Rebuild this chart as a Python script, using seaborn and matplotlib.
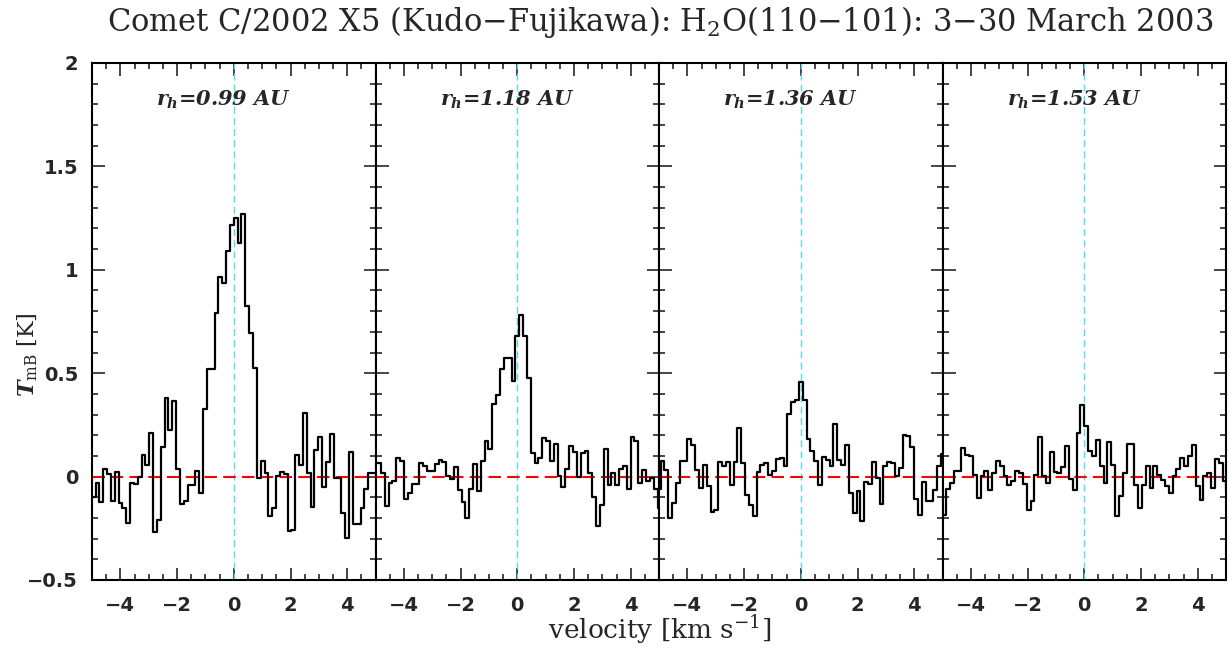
import numpy as np
import matplotlib
matplotlib.use('Agg')
import matplotlib.pyplot as plt
from matplotlib.ticker import MultipleLocator, FuncFormatter
import seaborn as sns

# spectral channel grid (km/s)
chan_width = 0.1355
first_edge = [-37 * chan_width, -37.5 * chan_width, -37.5 * chan_width, -37 * chan_width]

rh_labels = ['0.99', '1.18', '1.36', '1.53']

# T_mB [K] per channel
tmb_099 = [-0.097, -0.03, -0.125, 0.035, 0.013, -0.118, 0.023, -0.13, -0.153, -0.222,
           -0.03, -0.035, 0.0, 0.106, 0.055, 0.21, -0.268, -0.211, 0.143, 0.382,
           0.226, 0.366, 0.035, -0.134, -0.12, -0.042, -0.042, 0.027, -0.08, 0.325,
           0.522, 0.522, 0.793, 0.966, 0.935, 1.09, 1.217,
           1.252, 1.13, 1.272, 0.825, 0.696, 0.527, -0.005, 0.076, 0.016, -0.19,
           -0.15, 0.003, 0.024, 0.011, -0.263, -0.258, 0.103, 0.055, 0.306, 0.016,
           -0.147, 0.129, 0.192, -0.052, 0.071, 0.205, -0.005, -0.005, -0.174, -0.295,
           0.121, -0.23, -0.23, -0.15, -0.062, 0.016, 0.016]
tmb_118 = [0.068, 0.068, 0.016, -0.142, -0.029, -0.021, 0.09, 0.076, -0.11, -0.077,
           -0.035, -0.035, 0.068, 0.052, 0.027, 0.027, 0.063, 0.081, 0.071, 0.003,
           -0.01, 0.044, -0.064, -0.123, -0.2, -0.061, 0.06, -0.069, 0.076, 0.172,
           0.132, 0.35, 0.393, 0.522, 0.572, 0.572, 0.463,
           0.68, 0.782, 0.68, 0.478, 0.116, 0.068, 0.092, 0.189, 0.172, 0.076,
           0.16, 0.003, -0.05, 0.035, 0.148, 0.119, 0.0, 0.116, 0.124, 0.019,
           -0.1, -0.237, -0.139, 0.132, -0.042, 0.015, -0.042, 0.035, 0.052, -0.058,
           0.19, 0.172, -0.029, 0.032, -0.021, -0.005, -0.06, -0.15]
tmb_136 = [-0.06, 0.077, 0.034, -0.2, -0.127, -0.031, 0.074, 0.074, 0.182, 0.155,
           0.034, -0.053, 0.058, -0.047, -0.172, -0.16, 0.071, 0.05, 0.071, -0.042,
           0.069, 0.235, 0.066, -0.087, -0.135, -0.19, 0.021, 0.058, 0.066, 0.01,
           0.026, 0.085, 0.09, 0.05, 0.305, 0.36, 0.37,
           0.455, 0.371, 0.182, 0.122, 0.074, -0.039, 0.093, 0.082, 0.05, 0.256,
           0.082, 0.058, 0.155, -0.079, -0.176, -0.071, -0.216, -0.026, -0.034, 0.069,
           -0.006, -0.132, 0.053, 0.071, 0.066, 0.005, 0.042, 0.203, 0.195, 0.143,
           -0.108, -0.184, -0.026, -0.116, -0.116, -0.063, 0.05, 0.11]
tmb_153 = [-0.184, -0.06, -0.031, 0.026, 0.026, 0.139, 0.106, 0.098, 0.006, -0.103,
           0.002, 0.026, -0.066, 0.018, 0.074, 0.05, 0.002, -0.039, -0.023, 0.026,
           0.018, -0.034, -0.163, -0.119, 0.01, 0.192, 0.002, -0.031, 0.119, 0.021,
           0.018, 0.047, 0.147, -0.011, -0.066, 0.211, 0.348,
           0.243, 0.123, 0.098, 0.179, 0.05, -0.031, 0.166, 0.058, -0.192, -0.095,
           0.015, 0.16, 0.16, -0.039, -0.152, -0.039, 0.05, -0.055, 0.053, 0.01,
           -0.015, -0.044, -0.079, 0.002, 0.037, 0.09, 0.05, 0.098, 0.155, -0.047,
           -0.111, 0.002, 0.015, -0.055, 0.085, 0.066, -0.023, -0.071]

spectra = [tmb_099, tmb_118, tmb_136, tmb_153]

sns.set_style('ticks')
plt.rcParams['font.family'] = ['DejaVu Serif']
plt.rcParams['mathtext.fontset'] = 'custom'
plt.rcParams['mathtext.rm'] = 'DejaVu Serif'
plt.rcParams['mathtext.it'] = 'DejaVu Serif:italic:bold'

fig = plt.figure(figsize=(12.29, 6.5), dpi=100)
axes = fig.subplots(1, 4, sharey=True, gridspec_kw=dict(wspace=0))
fig.subplots_adjust(left=0.0749, right=0.9976, top=0.9031, bottom=0.1077)

minus_fmt = FuncFormatter(lambda v, pos: ('%g' % v).replace('-', '\u2212'))

for i, ax in enumerate(axes):
    vals = spectra[i]
    edges = first_edge[i] + chan_width * np.arange(len(vals) + 1)
    ax.axvline(0, color='#55dde6', ls=(0, (5, 3)), lw=1.0, zorder=1)
    ax.axhline(0, color='red', ls=(0, (6, 3)), lw=1.5, zorder=1)
    sns.lineplot(x=edges, y=list(vals) + [vals[-1]], drawstyle='steps-post',
                 color='black', lw=1.6, estimator=None, sort=False, ax=ax, zorder=3)
    ax.set_xlim(-5, 5)
    ax.set_ylim(-0.5, 2)
    ax.xaxis.set_major_locator(MultipleLocator(2))
    ax.xaxis.set_minor_locator(MultipleLocator(0.5))
    ax.yaxis.set_major_locator(MultipleLocator(0.5))
    ax.yaxis.set_minor_locator(MultipleLocator(0.1))
    ax.xaxis.set_major_formatter(minus_fmt)
    ax.yaxis.set_major_formatter(minus_fmt)
    ax.tick_params(which='both', direction='in', top=True, right=True, width=1.2,
                   labelsize=14)
    ax.tick_params(axis='x', pad=11.5)
    ax.tick_params(axis='y', pad=10)
    ax.tick_params(which='major', length=9)
    ax.tick_params(which='minor', length=4.5)
    for lab in ax.get_xticklabels() + ax.get_yticklabels():
        lab.set_family('DejaVu Sans')
        lab.set_fontweight('bold')
    for sp in ax.spines.values():
        sp.set_linewidth(1.5)
        sp.set_color('black')
    ax.set_xlabel('')
    ax.set_ylabel('')
    ax.text(0.465, 0.928, '$r_h$=' + rh_labels[i] + ' AU', transform=ax.transAxes,
            ha='center', va='center', fontsize=15, fontstyle='italic', fontweight='bold')

fig.text(0.537, 0.966, 'Comet C/2002 X5 (Kudo\u2212Fujikawa): H$_2$O(110\u2212101): 3\u221230 March 2003',
         ha='center', va='center', fontsize=22)
fig.text(0.537, 0.031, 'velocity [km s$^{-1}$]', ha='center', va='center', fontsize=19)
fig.text(0.023, 0.454, '$T_{\\rm mB}$ [K]', ha='center', va='center', rotation=90, fontsize=16)

fig.savefig('out.png', dpi=100)
